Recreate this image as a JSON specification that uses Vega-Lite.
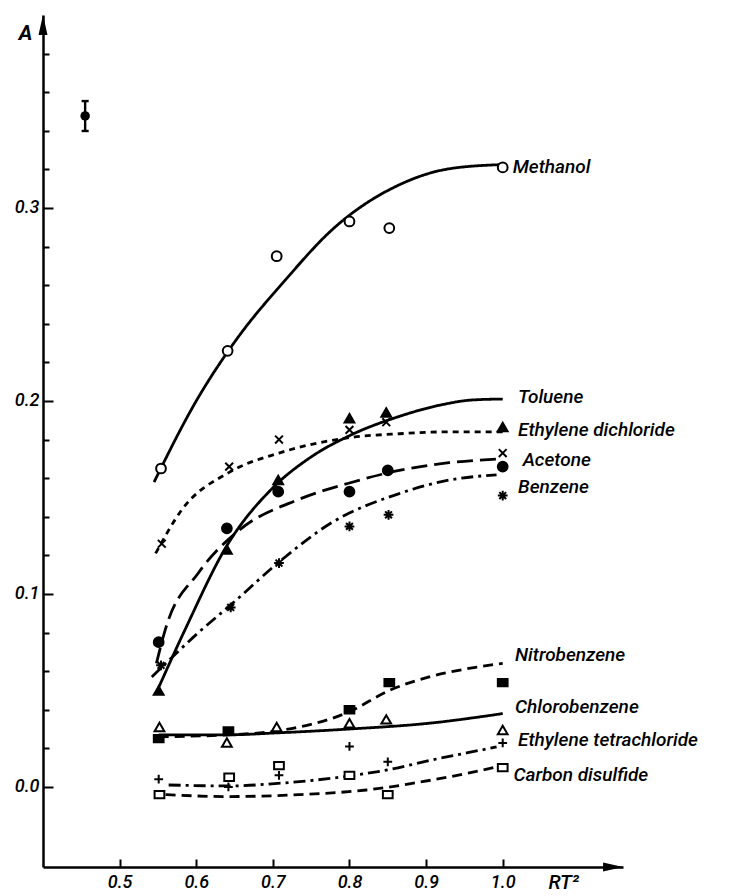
{
  "$schema": "https://vega.github.io/schema/vega-lite/v6.json",
  "width": 580,
  "height": 852,
  "autosize": {"type": "none"},
  "padding": {"left": 43, "top": 15, "right": 109, "bottom": 29},
  "background": "white",
  "config": {"view": {"stroke": null}, "axis": {"grid": false}},
  "datasets": {
    "crv": [
      {"series": "Methanol", "style": "solid", "x": 0.545, "y": 0.158},
      {"series": "Methanol", "style": "solid", "x": 0.60, "y": 0.200},
      {"series": "Methanol", "style": "solid", "x": 0.652, "y": 0.2316},
      {"series": "Methanol", "style": "solid", "x": 0.717, "y": 0.263},
      {"series": "Methanol", "style": "solid", "x": 0.777, "y": 0.2886},
      {"series": "Methanol", "style": "solid", "x": 0.865, "y": 0.312},
      {"series": "Methanol", "style": "solid", "x": 0.93, "y": 0.3203},
      {"series": "Methanol", "style": "solid", "x": 1.0, "y": 0.3225},
      {"series": "Toluene", "style": "solid", "x": 0.547, "y": 0.048},
      {"series": "Toluene", "style": "solid", "x": 0.586, "y": 0.082},
      {"series": "Toluene", "style": "solid", "x": 0.64, "y": 0.125},
      {"series": "Toluene", "style": "solid", "x": 0.70, "y": 0.155},
      {"series": "Toluene", "style": "solid", "x": 0.75, "y": 0.171},
      {"series": "Toluene", "style": "solid", "x": 0.80, "y": 0.182},
      {"series": "Toluene", "style": "solid", "x": 0.865, "y": 0.192},
      {"series": "Toluene", "style": "solid", "x": 0.92, "y": 0.198},
      {"series": "Toluene", "style": "solid", "x": 0.96, "y": 0.2005},
      {"series": "Toluene", "style": "solid", "x": 1.0, "y": 0.201},
      {"series": "Ethylene dichloride", "style": "short", "x": 0.547, "y": 0.121},
      {"series": "Ethylene dichloride", "style": "short", "x": 0.581, "y": 0.1435},
      {"series": "Ethylene dichloride", "style": "short", "x": 0.643, "y": 0.163},
      {"series": "Ethylene dichloride", "style": "short", "x": 0.708, "y": 0.173},
      {"series": "Ethylene dichloride", "style": "short", "x": 0.80, "y": 0.181},
      {"series": "Ethylene dichloride", "style": "short", "x": 0.865, "y": 0.183},
      {"series": "Ethylene dichloride", "style": "short", "x": 0.93, "y": 0.184},
      {"series": "Ethylene dichloride", "style": "short", "x": 1.0, "y": 0.184},
      {"series": "Acetone", "style": "long", "x": 0.548, "y": 0.064},
      {"series": "Acetone", "style": "long", "x": 0.56, "y": 0.082},
      {"series": "Acetone", "style": "long", "x": 0.603, "y": 0.111},
      {"series": "Acetone", "style": "long", "x": 0.656, "y": 0.133},
      {"series": "Acetone", "style": "long", "x": 0.734, "y": 0.149},
      {"series": "Acetone", "style": "long", "x": 0.80, "y": 0.1575},
      {"series": "Acetone", "style": "long", "x": 0.865, "y": 0.164},
      {"series": "Acetone", "style": "long", "x": 0.93, "y": 0.168},
      {"series": "Acetone", "style": "long", "x": 1.0, "y": 0.170},
      {"series": "Benzene", "style": "dashdot", "x": 0.542, "y": 0.057},
      {"series": "Benzene", "style": "dashdot", "x": 0.603, "y": 0.080},
      {"series": "Benzene", "style": "dashdot", "x": 0.647, "y": 0.095},
      {"series": "Benzene", "style": "dashdot", "x": 0.708, "y": 0.1165},
      {"series": "Benzene", "style": "dashdot", "x": 0.777, "y": 0.137},
      {"series": "Benzene", "style": "dashdot", "x": 0.865, "y": 0.152},
      {"series": "Benzene", "style": "dashdot", "x": 0.93, "y": 0.159},
      {"series": "Benzene", "style": "dashdot", "x": 0.992, "y": 0.1617},
      {"series": "Nitrobenzene", "style": "dash", "x": 0.551, "y": 0.026},
      {"series": "Nitrobenzene", "style": "dash", "x": 0.642, "y": 0.027},
      {"series": "Nitrobenzene", "style": "dash", "x": 0.705, "y": 0.029},
      {"series": "Nitrobenzene", "style": "dash", "x": 0.80, "y": 0.039},
      {"series": "Nitrobenzene", "style": "dash", "x": 0.852, "y": 0.050},
      {"series": "Nitrobenzene", "style": "dash", "x": 0.904, "y": 0.057},
      {"series": "Nitrobenzene", "style": "dash", "x": 0.95, "y": 0.061},
      {"series": "Nitrobenzene", "style": "dash", "x": 1.0, "y": 0.064},
      {"series": "Chlorobenzene", "style": "solid", "x": 0.551, "y": 0.027},
      {"series": "Chlorobenzene", "style": "solid", "x": 0.642, "y": 0.027},
      {"series": "Chlorobenzene", "style": "solid", "x": 0.705, "y": 0.028},
      {"series": "Chlorobenzene", "style": "solid", "x": 0.80, "y": 0.030},
      {"series": "Chlorobenzene", "style": "solid", "x": 0.904, "y": 0.033},
      {"series": "Chlorobenzene", "style": "solid", "x": 1.0, "y": 0.038},
      {"series": "Ethylene tetrachloride", "style": "dashdot", "x": 0.564, "y": 0.001},
      {"series": "Ethylene tetrachloride", "style": "dashdot", "x": 0.642, "y": 0.0005},
      {"series": "Ethylene tetrachloride", "style": "dashdot", "x": 0.712, "y": 0.002},
      {"series": "Ethylene tetrachloride", "style": "dashdot", "x": 0.80, "y": 0.0057},
      {"series": "Ethylene tetrachloride", "style": "dashdot", "x": 0.852, "y": 0.009},
      {"series": "Ethylene tetrachloride", "style": "dashdot", "x": 0.908, "y": 0.014},
      {"series": "Ethylene tetrachloride", "style": "dashdot", "x": 0.953, "y": 0.0176},
      {"series": "Ethylene tetrachloride", "style": "dashdot", "x": 0.992, "y": 0.0207},
      {"series": "Carbon disulfide", "style": "dash", "x": 0.56, "y": -0.004},
      {"series": "Carbon disulfide", "style": "dash", "x": 0.642, "y": -0.005},
      {"series": "Carbon disulfide", "style": "dash", "x": 0.734, "y": -0.004},
      {"series": "Carbon disulfide", "style": "dash", "x": 0.822, "y": -0.0016},
      {"series": "Carbon disulfide", "style": "dash", "x": 0.908, "y": 0.0036},
      {"series": "Carbon disulfide", "style": "dash", "x": 0.953, "y": 0.007},
      {"series": "Carbon disulfide", "style": "dash", "x": 0.992, "y": 0.0104}
    ],
    "pts": [
      {"series": "Methanol", "m": "ocirc", "x": 0.554, "y": 0.165},
      {"series": "Methanol", "m": "ocirc", "x": 0.641, "y": 0.226},
      {"series": "Methanol", "m": "ocirc", "x": 0.705, "y": 0.275},
      {"series": "Methanol", "m": "ocirc", "x": 0.80, "y": 0.293},
      {"series": "Methanol", "m": "ocirc", "x": 0.852, "y": 0.2896},
      {"series": "Methanol", "m": "ocirc", "x": 1.0, "y": 0.321},
      {"series": "Toluene", "m": "tri", "x": 0.551, "y": 0.050},
      {"series": "Toluene", "m": "tri", "x": 0.640, "y": 0.123},
      {"series": "Toluene", "m": "tri", "x": 0.707, "y": 0.159},
      {"series": "Toluene", "m": "tri", "x": 0.80, "y": 0.191},
      {"series": "Toluene", "m": "tri", "x": 0.848, "y": 0.194},
      {"series": "Toluene", "m": "tri", "x": 1.0, "y": 0.1865},
      {"series": "Ethylene dichloride", "m": "x", "x": 0.555, "y": 0.126},
      {"series": "Ethylene dichloride", "m": "x", "x": 0.643, "y": 0.166},
      {"series": "Ethylene dichloride", "m": "x", "x": 0.708, "y": 0.180},
      {"series": "Ethylene dichloride", "m": "x", "x": 0.80, "y": 0.185},
      {"series": "Ethylene dichloride", "m": "x", "x": 0.848, "y": 0.189},
      {"series": "Ethylene dichloride", "m": "x", "x": 1.0, "y": 0.173},
      {"series": "Acetone", "m": "dot", "x": 0.551, "y": 0.075},
      {"series": "Acetone", "m": "dot", "x": 0.640, "y": 0.134},
      {"series": "Acetone", "m": "dot", "x": 0.707, "y": 0.153},
      {"series": "Acetone", "m": "dot", "x": 0.80, "y": 0.153},
      {"series": "Acetone", "m": "dot", "x": 0.85, "y": 0.164},
      {"series": "Acetone", "m": "dot", "x": 1.0, "y": 0.166},
      {"series": "Benzene", "m": "star", "x": 0.554, "y": 0.063},
      {"series": "Benzene", "m": "star", "x": 0.645, "y": 0.093},
      {"series": "Benzene", "m": "star", "x": 0.708, "y": 0.116},
      {"series": "Benzene", "m": "star", "x": 0.80, "y": 0.135},
      {"series": "Benzene", "m": "star", "x": 0.851, "y": 0.141},
      {"series": "Benzene", "m": "star", "x": 1.0, "y": 0.151},
      {"series": "Nitrobenzene", "m": "sq", "x": 0.551, "y": 0.025},
      {"series": "Nitrobenzene", "m": "sq", "x": 0.642, "y": 0.029},
      {"series": "Nitrobenzene", "m": "sq", "x": 0.80, "y": 0.040},
      {"series": "Nitrobenzene", "m": "sq", "x": 0.852, "y": 0.054},
      {"series": "Nitrobenzene", "m": "sq", "x": 1.0, "y": 0.054},
      {"series": "Chlorobenzene", "m": "otri", "x": 0.552, "y": 0.031},
      {"series": "Chlorobenzene", "m": "otri", "x": 0.64, "y": 0.023},
      {"series": "Chlorobenzene", "m": "otri", "x": 0.705, "y": 0.031},
      {"series": "Chlorobenzene", "m": "otri", "x": 0.80, "y": 0.033},
      {"series": "Chlorobenzene", "m": "otri", "x": 0.848, "y": 0.035},
      {"series": "Chlorobenzene", "m": "otri", "x": 1.0, "y": 0.0295},
      {"series": "Ethylene tetrachloride", "m": "plus", "x": 0.551, "y": 0.004},
      {"series": "Ethylene tetrachloride", "m": "plus", "x": 0.642, "y": 0.0},
      {"series": "Ethylene tetrachloride", "m": "plus", "x": 0.708, "y": 0.006},
      {"series": "Ethylene tetrachloride", "m": "plus", "x": 0.80, "y": 0.021},
      {"series": "Ethylene tetrachloride", "m": "plus", "x": 0.85, "y": 0.013},
      {"series": "Ethylene tetrachloride", "m": "plus", "x": 1.0, "y": 0.0228},
      {"series": "Carbon disulfide", "m": "osq", "x": 0.552, "y": -0.004},
      {"series": "Carbon disulfide", "m": "osq", "x": 0.643, "y": 0.005},
      {"series": "Carbon disulfide", "m": "osq", "x": 0.708, "y": 0.011},
      {"series": "Carbon disulfide", "m": "osq", "x": 0.80, "y": 0.006},
      {"series": "Carbon disulfide", "m": "osq", "x": 0.85, "y": -0.004},
      {"series": "Carbon disulfide", "m": "osq", "x": 1.0, "y": 0.010}
    ],
    "lab": [
      {"t": "Methanol", "x": 1.013, "y": 0.321},
      {"t": "Toluene", "x": 1.02, "y": 0.202},
      {"t": "Ethylene dichloride", "x": 1.02, "y": 0.185},
      {"t": "Acetone", "x": 1.026, "y": 0.1695},
      {"t": "Benzene", "x": 1.02, "y": 0.1554},
      {"t": "Nitrobenzene", "x": 1.016, "y": 0.0684},
      {"t": "Chlorobenzene", "x": 1.016, "y": 0.0415},
      {"t": "Ethylene tetrachloride", "x": 1.02, "y": 0.0244},
      {"t": "Carbon disulfide", "x": 1.014, "y": 0.0062}
    ],
    "err": [
      {"x": 0.455, "y": 0.3477, "lo": 0.3399, "hi": 0.3554}
    ],
    "arr": [
      {"dir": "x", "x": 1.144, "y": -0.0415},
      {"dir": "y", "x": 0.4, "y": 0.3948}
    ]
  },
  "layer": [
    {
      "data": {"name": "crv"},
      "mark": {"type": "line", "interpolate": "monotone", "strokeWidth": 2.8, "color": "black", "strokeCap": "butt"},
      "encoding": {
        "x": {
          "field": "x", "type": "quantitative",
          "scale": {"domain": [0.4, 1.157], "nice": false, "zero": false},
          "axis": {
            "values": [0.5, 0.6, 0.7, 0.8, 0.9, 1.0],
            "format": ".1f",
            "tickSize": -8,
            "tickWidth": 2,
            "tickColor": "black",
            "domainWidth": 2.5,
            "domainColor": "black",
            "labelPadding": 14,
            "labelFont": "Roboto",
            "labelFontSize": 18,
            "labelFontStyle": "italic",
            "labelFontWeight": 500,
            "labelColor": "black",
            "labelFlush": false,
            "title": "RT²",
            "titleFont": "Roboto",
            "titleFontSize": 20,
            "titleFontStyle": "italic",
            "titleFontWeight": 500,
            "titleColor": "black",
            "titleX": 505,
            "titleY": 21,
            "titleAlign": "left",
            "titleBaseline": "alphabetic"
          }
        },
        "y": {
          "field": "y", "type": "quantitative",
          "scale": {"domain": [-0.0415, 0.4], "nice": false, "zero": false},
          "axis": {
            "values": [0.0, 0.02, 0.04, 0.06, 0.08, 0.1, 0.12, 0.14, 0.16, 0.18, 0.2, 0.22, 0.24, 0.26, 0.28, 0.3, 0.32, 0.34, 0.36, 0.38],
            "labelExpr": "abs(datum.value*10 - round(datum.value*10)) < 0.001 ? format(datum.value, '.1f') : ''",
            "tickSize": {"condition": {"test": "abs(datum.value*10 - round(datum.value*10)) < 0.001", "value": -10}, "value": -6},
            "tickWidth": 2,
            "tickColor": "black",
            "domainWidth": 2.5,
            "domainColor": "black",
            "labelPadding": 14,
            "labelFont": "Roboto",
            "labelFontSize": 18,
            "labelFontStyle": "italic",
            "labelFontWeight": 500,
            "labelColor": "black",
            "labelFlush": false,
            "title": "A",
            "titleAngle": 0,
            "titleFont": "Roboto",
            "titleFontSize": 21,
            "titleFontStyle": "italic",
            "titleFontWeight": "bold",
            "titleColor": "black",
            "titleX": -18,
            "titleY": 18,
            "titleAlign": "center",
            "titleBaseline": "middle"
          }
        },
        "detail": {"field": "series"},
        "strokeDash": {
          "field": "style", "type": "nominal",
          "scale": {"domain": ["solid", "short", "long", "dashdot", "dash"], "range": [[1, 0], [6, 5], [16, 7], [12, 5, 3, 5], [10, 6]]},
          "legend": null
        }
      }
    },
    {
      "data": {"name": "pts"},
      "mark": {"type": "point", "filled": false, "color": "black", "stroke": "black", "strokeWidth": 2, "opacity": 1, "size": 95},
      "encoding": {
        "x": {"field": "x", "type": "quantitative"},
        "y": {"field": "y", "type": "quantitative"},
        "shape": {
          "field": "m", "type": "nominal",
          "scale": {
            "domain": ["ocirc", "tri", "x", "dot", "star", "sq", "otri", "plus", "osq"],
            "range": ["circle", "triangle-up", "M-0.8,-0.8L0.8,0.8M0.8,-0.8L-0.8,0.8", "circle", "M-1,0L1,0M0,-1L0,1M-0.7,-0.7L0.7,0.7M-0.7,0.7L0.7,-0.7", "M-1,-0.75L1,-0.75L1,0.75L-1,0.75Z", "triangle-up", "M-0.9,0L0.9,0M0,-0.9L0,0.9", "M-1,-0.75L1,-0.75L1,0.75L-1,0.75Z"]
          },
          "legend": null
        },
        "fill": {
          "field": "m", "type": "nominal",
          "scale": {
            "domain": ["ocirc", "tri", "x", "dot", "star", "sq", "otri", "plus", "osq"],
            "range": ["white", "black", "transparent", "black", "transparent", "black", "white", "transparent", "white"]
          },
          "legend": null
        }
      }
    },
    {
      "data": {"name": "err"},
      "mark": {"type": "rule", "strokeWidth": 2.4, "color": "black"},
      "encoding": {
        "x": {"field": "x", "type": "quantitative"},
        "y": {"field": "lo", "type": "quantitative"},
        "y2": {"field": "hi"}
      }
    },
    {
      "data": {"name": "err"},
      "mark": {"type": "point", "shape": "M-1,0L1,0", "size": 50, "strokeWidth": 2.4, "color": "black", "opacity": 1},
      "encoding": {
        "x": {"field": "x", "type": "quantitative"},
        "y": {"field": "lo", "type": "quantitative"}
      }
    },
    {
      "data": {"name": "err"},
      "mark": {"type": "point", "shape": "M-1,0L1,0", "size": 50, "strokeWidth": 2.4, "color": "black", "opacity": 1},
      "encoding": {
        "x": {"field": "x", "type": "quantitative"},
        "y": {"field": "hi", "type": "quantitative"}
      }
    },
    {
      "data": {"name": "err"},
      "mark": {"type": "point", "shape": "circle", "size": 90, "filled": true, "color": "black", "opacity": 1},
      "encoding": {
        "x": {"field": "x", "type": "quantitative"},
        "y": {"field": "y", "type": "quantitative"}
      }
    },
    {
      "data": {"name": "arr"},
      "transform": [{"filter": "datum.dir == 'x'"}],
      "mark": {"type": "point", "shape": "M-1,-0.45L1,0L-1,0.45Z", "size": 400, "filled": true, "color": "black", "opacity": 1},
      "encoding": {
        "x": {"field": "x", "type": "quantitative"},
        "y": {"field": "y", "type": "quantitative"}
      }
    },
    {
      "data": {"name": "arr"},
      "transform": [{"filter": "datum.dir == 'y'"}],
      "mark": {"type": "point", "shape": "M-0.45,1L0,-1L0.45,1Z", "size": 400, "filled": true, "color": "black", "opacity": 1},
      "encoding": {
        "x": {"field": "x", "type": "quantitative"},
        "y": {"field": "y", "type": "quantitative"}
      }
    },
    {
      "data": {"name": "lab"},
      "mark": {"type": "text", "align": "left", "baseline": "middle", "font": "Roboto", "fontSize": 19, "fontStyle": "italic", "fontWeight": 500, "color": "black"},
      "encoding": {
        "x": {"field": "x", "type": "quantitative"},
        "y": {"field": "y", "type": "quantitative"},
        "text": {"field": "t"}
      }
    }
  ]
}
